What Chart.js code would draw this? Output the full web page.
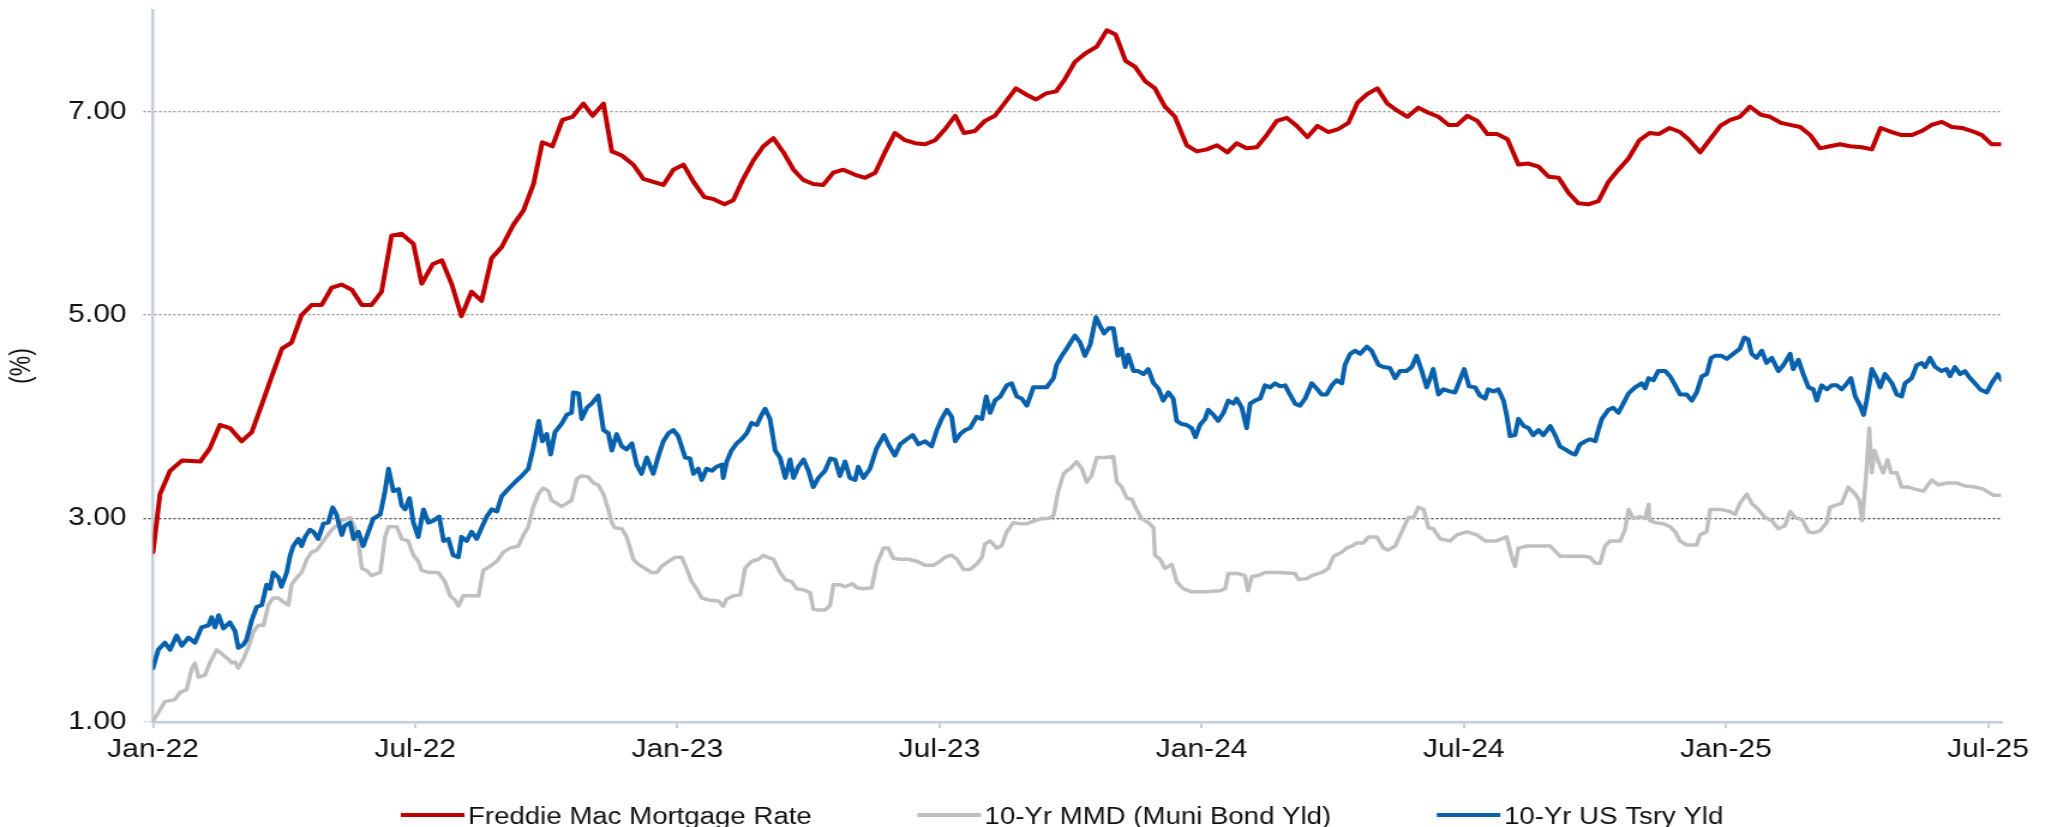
<!DOCTYPE html>
<html>
<head>
<meta charset="utf-8">
<script src="https://cdn.jsdelivr.net/npm/chart.js@4/dist/chart.umd.min.js"></script>
<style>
  html, body { margin: 0; padding: 0; background: #ffffff; overflow: hidden; }
  #wrap { width: 1704px; height: 827px; transform: scaleX(1.2001); transform-origin: 0 0; }
  canvas { display: block; }
</style>
</head>
<body>
<div id="wrap"><canvas id="chart" width="1704" height="827" style="width:1704px;height:827px"></canvas></div>
<script>
// ---------- DATA (x = months since Jan-2022) ----------
const seriesLabels = ["Freddie Mac Mortgage Rate", "10-Yr MMD (Muni Bond Yld)", "10-Yr US Tsry Yld"];

const xTickMonths = [0, 6, 12, 18, 24, 30, 36, 42];
const xTickLabels = ["Jan-22", "Jul-22", "Jan-23", "Jul-23", "Jan-24", "Jul-24", "Jan-25", "Jul-25"];
const yTickValues = [1, 3, 5, 7];

const mortgageMonths = [0.00,0.16,0.39,0.66,1.08,1.30,1.53,1.76,2.03,2.26,2.53,2.72,2.95,3.17,3.40,3.63,3.86,4.09,4.32,4.55,4.78,5.00,5.23,5.46,5.69,5.96,6.15,6.40,6.61,6.84,7.06,7.29,7.52,7.75,7.98,8.25,8.48,8.71,8.91,9.14,9.37,9.60,9.85,10.06,10.31,10.50,10.73,10.99,11.22,11.45,11.68,11.91,12.14,12.37,12.62,12.83,13.08,13.28,13.51,13.74,13.97,14.20,14.43,14.66,14.88,15.11,15.34,15.57,15.80,16.07,16.30,16.53,16.75,16.98,17.21,17.44,17.67,17.90,18.13,18.36,18.56,18.81,19.04,19.27,19.52,19.75,19.98,20.21,20.44,20.67,20.87,21.10,21.33,21.60,21.83,22.03,22.26,22.48,22.71,22.93,23.16,23.39,23.66,23.89,24.12,24.35,24.59,24.80,25.03,25.26,25.49,25.72,25.95,26.18,26.42,26.65,26.90,27.13,27.36,27.57,27.78,28.02,28.25,28.48,28.71,28.96,29.19,29.42,29.65,29.85,30.08,30.31,30.54,30.77,31.00,31.25,31.48,31.71,31.94,32.17,32.40,32.62,32.85,33.08,33.31,33.54,33.77,34.02,34.25,34.46,34.71,34.95,35.14,35.41,35.64,35.87,36.10,36.32,36.55,36.80,37.01,37.26,37.47,37.70,37.93,38.15,38.38,38.61,38.84,39.11,39.34,39.54,39.80,40.02,40.25,40.48,40.71,40.94,41.17,41.40,41.63,41.86,42.08,42.31];
const mortgageRate = [2.67,3.24,3.47,3.57,3.56,3.69,3.92,3.89,3.76,3.85,4.17,4.40,4.67,4.73,5.00,5.10,5.10,5.27,5.30,5.25,5.10,5.10,5.23,5.78,5.80,5.70,5.31,5.50,5.54,5.30,4.99,5.23,5.14,5.56,5.67,5.89,6.03,6.29,6.70,6.66,6.92,6.95,7.08,6.96,7.08,6.61,6.57,6.48,6.34,6.31,6.28,6.43,6.48,6.31,6.16,6.14,6.09,6.13,6.34,6.52,6.66,6.74,6.60,6.43,6.33,6.29,6.28,6.40,6.43,6.38,6.35,6.40,6.60,6.79,6.72,6.69,6.68,6.72,6.83,6.96,6.79,6.81,6.91,6.96,7.10,7.23,7.17,7.12,7.18,7.20,7.32,7.49,7.57,7.64,7.80,7.76,7.50,7.44,7.30,7.23,7.05,6.95,6.67,6.61,6.63,6.67,6.60,6.69,6.64,6.65,6.77,6.91,6.94,6.86,6.75,6.86,6.80,6.83,6.89,7.09,7.17,7.23,7.08,7.01,6.95,7.04,6.99,6.95,6.87,6.87,6.96,6.91,6.78,6.78,6.73,6.48,6.49,6.46,6.36,6.35,6.20,6.10,6.09,6.12,6.31,6.43,6.54,6.72,6.79,6.78,6.84,6.80,6.73,6.60,6.73,6.86,6.92,6.95,7.05,6.97,6.95,6.89,6.87,6.85,6.77,6.64,6.66,6.68,6.66,6.65,6.63,6.84,6.80,6.77,6.77,6.81,6.87,6.90,6.85,6.84,6.81,6.77,6.68,6.68];

const mmdMonths = [0.00,0.12,0.27,0.50,0.62,0.77,0.89,0.96,1.04,1.19,1.30,1.46,1.57,1.72,1.80,1.88,1.95,2.07,2.18,2.30,2.41,2.53,2.64,2.75,2.87,2.98,3.10,3.17,3.29,3.40,3.52,3.63,3.75,3.90,4.09,4.20,4.32,4.51,4.62,4.70,4.78,4.89,5.00,5.20,5.31,5.39,5.58,5.69,5.84,5.96,6.07,6.15,6.30,6.53,6.68,6.80,6.91,6.99,7.10,7.45,7.56,7.71,7.87,8.02,8.17,8.36,8.48,8.59,8.70,8.82,8.93,9.05,9.12,9.24,9.35,9.47,9.58,9.70,9.81,9.96,10.08,10.19,10.31,10.42,10.50,10.57,10.73,10.84,10.92,10.99,11.11,11.26,11.41,11.53,11.64,11.80,11.95,12.10,12.21,12.33,12.44,12.56,12.71,12.94,13.05,13.13,13.28,13.44,13.55,13.70,13.86,13.97,14.05,14.20,14.35,14.47,14.62,14.73,14.88,15.04,15.11,15.23,15.38,15.50,15.57,15.72,15.84,16.01,16.11,16.26,16.45,16.56,16.72,16.83,16.94,17.10,17.29,17.48,17.67,17.86,18.01,18.13,18.28,18.40,18.55,18.70,18.85,18.97,19.04,19.16,19.31,19.42,19.54,19.69,19.84,20.00,20.19,20.34,20.49,20.61,20.72,20.84,20.91,20.99,21.14,21.26,21.37,21.48,21.60,21.79,21.98,22.06,22.17,22.29,22.40,22.51,22.63,22.78,22.90,22.93,23.05,23.16,23.32,23.43,23.58,23.77,24.08,24.42,24.54,24.61,24.84,24.99,25.06,25.15,25.30,25.45,25.76,26.14,26.22,26.41,26.52,26.75,26.90,27.02,27.21,27.32,27.44,27.55,27.70,27.82,28.01,28.16,28.27,28.43,28.58,28.73,28.85,28.96,29.08,29.19,29.30,29.46,29.69,29.84,30.07,30.30,30.49,30.75,30.98,31.10,31.17,31.25,31.44,31.67,31.98,32.20,32.43,32.74,32.89,33.01,33.12,33.23,33.35,33.58,33.69,33.77,33.88,34.03,34.15,34.23,34.26,34.38,34.57,34.72,34.84,34.95,35.10,35.33,35.41,35.56,35.64,35.87,36.09,36.21,36.32,36.48,36.59,36.74,36.90,37.05,37.20,37.35,37.47,37.58,37.74,37.89,38.00,38.15,38.31,38.38,38.50,38.65,38.80,38.96,39.05,39.12,39.22,39.28,39.34,39.40,39.49,39.60,39.70,39.78,39.91,40.02,40.18,40.33,40.52,40.71,40.86,41.05,41.28,41.47,41.70,41.89,42.12,42.31];
const mmdYield = [1.01,1.09,1.20,1.22,1.29,1.32,1.53,1.58,1.44,1.46,1.58,1.71,1.67,1.62,1.58,1.59,1.53,1.62,1.73,1.89,1.95,1.95,2.15,2.22,2.22,2.18,2.15,2.35,2.42,2.47,2.60,2.67,2.69,2.78,2.89,2.93,2.98,3.01,2.91,2.78,2.51,2.49,2.44,2.47,2.82,2.92,2.92,2.80,2.78,2.64,2.58,2.49,2.47,2.47,2.38,2.24,2.20,2.14,2.24,2.24,2.49,2.53,2.58,2.67,2.71,2.73,2.84,2.92,3.11,3.24,3.30,3.27,3.18,3.15,3.12,3.15,3.18,3.39,3.42,3.41,3.35,3.33,3.24,3.09,2.96,2.91,2.90,2.82,2.71,2.60,2.55,2.51,2.47,2.47,2.53,2.58,2.62,2.62,2.51,2.38,2.31,2.22,2.20,2.19,2.14,2.21,2.24,2.25,2.51,2.58,2.60,2.64,2.62,2.60,2.47,2.40,2.38,2.31,2.30,2.27,2.11,2.10,2.10,2.15,2.35,2.35,2.33,2.36,2.32,2.31,2.32,2.55,2.71,2.71,2.61,2.60,2.60,2.58,2.54,2.54,2.58,2.62,2.64,2.60,2.50,2.50,2.55,2.62,2.75,2.78,2.71,2.73,2.87,2.96,2.95,2.95,2.98,3.00,3.00,3.03,3.27,3.44,3.47,3.49,3.56,3.49,3.36,3.42,3.60,3.60,3.61,3.36,3.31,3.20,3.19,3.09,3.00,2.96,2.91,2.64,2.60,2.51,2.55,2.38,2.31,2.28,2.28,2.29,2.31,2.46,2.46,2.44,2.29,2.43,2.44,2.47,2.47,2.46,2.40,2.41,2.44,2.47,2.51,2.63,2.67,2.71,2.73,2.76,2.76,2.82,2.82,2.71,2.69,2.73,2.87,3.01,3.01,3.11,3.09,2.91,2.90,2.80,2.78,2.84,2.87,2.84,2.78,2.78,2.82,2.62,2.53,2.71,2.73,2.73,2.73,2.63,2.63,2.63,2.62,2.56,2.56,2.73,2.78,2.78,2.89,3.09,3.00,3.02,3.00,3.14,2.98,2.96,2.95,2.92,2.87,2.78,2.74,2.74,2.84,2.87,3.09,3.09,3.07,3.04,3.15,3.24,3.15,3.09,3.01,2.98,2.90,2.93,3.07,3.01,2.99,2.87,2.86,2.88,2.96,3.11,3.13,3.15,3.31,3.24,3.18,2.98,3.49,3.89,3.45,3.67,3.56,3.45,3.58,3.45,3.45,3.31,3.31,3.29,3.27,3.38,3.33,3.35,3.35,3.32,3.31,3.29,3.23,3.23];

const tsryMonths = [0.00,0.12,0.27,0.39,0.54,0.66,0.81,0.96,1.11,1.27,1.34,1.42,1.50,1.61,1.76,1.88,1.95,2.07,2.14,2.26,2.37,2.49,2.60,2.68,2.75,2.87,2.94,3.06,3.14,3.21,3.33,3.40,3.48,3.59,3.67,3.78,3.90,4.01,4.11,4.20,4.32,4.39,4.51,4.59,4.70,4.81,4.93,5.04,5.20,5.31,5.39,5.50,5.62,5.69,5.77,5.87,5.96,6.07,6.19,6.30,6.42,6.55,6.65,6.76,6.87,6.99,7.06,7.18,7.29,7.41,7.52,7.64,7.75,7.87,7.98,8.13,8.29,8.44,8.59,8.70,8.83,8.91,9.01,9.10,9.20,9.35,9.47,9.58,9.62,9.74,9.81,9.93,10.04,10.19,10.31,10.42,10.50,10.61,10.73,10.84,10.96,11.07,11.18,11.30,11.45,11.57,11.68,11.80,11.91,12.02,12.18,12.29,12.37,12.48,12.56,12.67,12.79,12.90,13.02,13.05,13.13,13.24,13.36,13.47,13.59,13.70,13.82,13.93,14.01,14.12,14.24,14.35,14.47,14.58,14.66,14.77,14.89,15.00,15.11,15.23,15.38,15.50,15.61,15.72,15.84,15.95,16.07,16.14,16.26,16.41,16.56,16.73,16.83,16.98,17.10,17.25,17.39,17.52,17.67,17.82,17.94,18.05,18.17,18.28,18.36,18.47,18.59,18.70,18.85,18.97,19.07,19.16,19.27,19.39,19.54,19.65,19.77,19.88,20.00,20.15,20.30,20.45,20.61,20.68,20.80,20.91,21.10,21.22,21.33,21.45,21.58,21.68,21.77,21.87,21.98,22.08,22.17,22.25,22.32,22.44,22.55,22.67,22.78,22.90,23.01,23.12,23.24,23.35,23.43,23.54,23.66,23.77,23.86,23.96,24.08,24.15,24.27,24.38,24.50,24.61,24.73,24.80,24.92,25.03,25.11,25.22,25.34,25.45,25.57,25.68,25.80,25.91,26.02,26.14,26.25,26.37,26.52,26.63,26.75,26.86,26.98,27.09,27.21,27.28,27.40,27.51,27.63,27.78,27.89,28.05,28.16,28.31,28.43,28.54,28.69,28.81,28.92,29.04,29.15,29.23,29.30,29.42,29.53,29.69,29.80,29.91,30.01,30.12,30.26,30.37,30.49,30.56,30.68,30.79,30.91,30.98,31.06,31.17,31.25,31.37,31.48,31.59,31.71,31.82,31.98,32.09,32.20,32.36,32.47,32.55,32.66,32.78,32.89,33.01,33.08,33.16,33.31,33.42,33.54,33.65,33.77,33.92,34.07,34.15,34.23,34.34,34.45,34.61,34.72,34.84,34.95,35.10,35.22,35.33,35.45,35.56,35.66,35.75,35.90,36.02,36.17,36.32,36.42,36.51,36.59,36.70,36.82,36.93,37.05,37.20,37.32,37.47,37.54,37.66,37.77,37.89,38.00,38.08,38.19,38.31,38.42,38.54,38.65,38.77,38.86,38.96,39.07,39.15,39.22,39.34,39.45,39.53,39.64,39.80,39.91,40.02,40.10,40.25,40.37,40.48,40.56,40.67,40.79,40.94,41.05,41.13,41.24,41.36,41.47,41.59,41.70,41.82,41.97,42.08,42.22,42.31];
const tsryYield = [1.53,1.71,1.78,1.71,1.85,1.75,1.83,1.78,1.93,1.95,2.03,1.93,2.05,1.92,1.98,1.89,1.73,1.76,1.81,2.00,2.13,2.15,2.35,2.31,2.47,2.42,2.33,2.47,2.64,2.73,2.80,2.73,2.82,2.89,2.87,2.80,2.95,2.96,3.11,3.04,2.84,2.93,2.96,2.80,2.87,2.73,2.87,3.00,3.04,3.27,3.49,3.27,3.29,3.13,3.09,3.20,2.96,2.82,3.09,2.96,2.98,3.02,2.78,2.80,2.64,2.62,2.82,2.78,2.87,2.80,2.91,3.02,3.09,3.07,3.22,3.29,3.36,3.42,3.49,3.69,3.96,3.76,3.83,3.63,3.85,3.93,4.02,4.04,4.24,4.23,3.98,4.09,4.13,4.21,3.87,3.84,3.67,3.83,3.71,3.68,3.74,3.53,3.44,3.60,3.44,3.62,3.76,3.84,3.87,3.81,3.60,3.59,3.44,3.49,3.38,3.49,3.47,3.51,3.53,3.40,3.56,3.67,3.74,3.78,3.84,3.94,3.92,4.02,4.08,3.98,3.67,3.60,3.40,3.58,3.40,3.51,3.58,3.47,3.31,3.40,3.47,3.59,3.58,3.42,3.56,3.40,3.38,3.51,3.40,3.49,3.69,3.82,3.73,3.62,3.73,3.78,3.82,3.73,3.76,3.71,3.87,3.98,4.07,4.00,3.76,3.83,3.87,3.89,4.00,3.98,4.20,4.04,4.16,4.20,4.31,4.33,4.20,4.18,4.11,4.29,4.29,4.29,4.38,4.51,4.60,4.67,4.80,4.73,4.60,4.71,4.98,4.89,4.82,4.87,4.87,4.60,4.67,4.49,4.61,4.45,4.45,4.42,4.47,4.33,4.28,4.16,4.24,4.18,3.96,3.93,3.92,3.89,3.80,3.92,3.98,4.07,4.02,3.96,4.04,4.16,4.13,4.18,4.09,3.89,4.13,4.16,4.18,4.31,4.29,4.33,4.30,4.31,4.22,4.13,4.11,4.18,4.33,4.28,4.22,4.22,4.31,4.36,4.33,4.51,4.62,4.65,4.62,4.69,4.65,4.51,4.49,4.48,4.38,4.45,4.45,4.49,4.60,4.45,4.29,4.38,4.47,4.22,4.27,4.25,4.24,4.36,4.47,4.30,4.29,4.21,4.18,4.27,4.25,4.27,4.16,4.02,3.81,3.82,3.98,3.91,3.89,3.82,3.87,3.82,3.91,3.82,3.71,3.67,3.64,3.63,3.73,3.76,3.78,3.76,3.87,3.98,4.07,4.09,4.04,4.13,4.23,4.29,4.33,4.28,4.38,4.36,4.45,4.45,4.40,4.31,4.22,4.22,4.16,4.24,4.40,4.42,4.58,4.60,4.60,4.57,4.62,4.67,4.78,4.76,4.62,4.58,4.65,4.53,4.58,4.45,4.51,4.62,4.47,4.56,4.42,4.29,4.27,4.16,4.31,4.27,4.31,4.31,4.27,4.33,4.38,4.20,4.11,4.02,4.16,4.47,4.38,4.29,4.42,4.33,4.22,4.20,4.33,4.38,4.51,4.53,4.49,4.58,4.49,4.45,4.47,4.40,4.49,4.42,4.45,4.38,4.33,4.27,4.24,4.33,4.42,4.36];

// ---------- BUILD ----------
const FONT = "'Liberation Sans', Arial, Helvetica, sans-serif";
const AXIS_COLOR = '#c3cedb';
const toPoints = (xs, ys) => xs.map((x, i) => ({ x: x, y: ys[i] }));

const legendPlugin = {
  id: 'bottomLegend',
  afterDraw(chart) {
    const ctx = chart.ctx;
    ctx.save();
    ctx.font = '23px ' + FONT;
    const items = chart.data.datasets.map(ds => ({
      text: ds.label, color: ds.borderColor, w: ctx.measureText(ds.label).width
    }));
    const lineLen = 53, gap = 3, spacing = 88;
    const total = items.reduce((s, it) => s + lineLen + gap + it.w, 0) + spacing * (items.length - 1);
    let x = 885 - total / 2;
    const yLine = 815;
    const yBase = 823.5;
    items.forEach(it => {
      ctx.strokeStyle = it.color;
      ctx.lineWidth = 4;
      ctx.beginPath();
      ctx.moveTo(x, yLine);
      ctx.lineTo(x + lineLen, yLine);
      ctx.stroke();
      ctx.fillStyle = '#111111';
      ctx.textAlign = 'left';
      ctx.textBaseline = 'alphabetic';
      ctx.fillText(it.text, x + lineLen + gap, yBase);
      x += lineLen + gap + it.w + spacing;
    });
    ctx.restore();
  }
};

new Chart(document.getElementById('chart'), {
  type: 'line',
  data: {
    datasets: [
      { label: seriesLabels[0], data: toPoints(mortgageMonths, mortgageRate), borderColor: '#c00000', borderWidth: 4, order: 2 },
      { label: seriesLabels[1], data: toPoints(mmdMonths, mmdYield), borderColor: '#bfbfbf', borderWidth: 3.5, order: 1 },
      { label: seriesLabels[2], data: toPoints(tsryMonths, tsryYield), borderColor: '#0761ac', borderWidth: 4, order: 0 }
    ]
  },
  options: {
    responsive: false,
    animation: false,
    devicePixelRatio: 1,
    layout: { padding: { top: 10, left: 0, right: 36.5, bottom: 55 } },
    elements: {
      point: { radius: 0, hoverRadius: 0 },
      line: { tension: 0, fill: false, borderJoinStyle: 'round', borderCapStyle: 'round' }
    },
    plugins: { legend: { display: false }, tooltip: { enabled: false } },
    scales: {
      x: {
        type: 'linear',
        min: 0,
        max: 42.3,
        afterBuildTicks: s => { s.ticks = xTickMonths.map(v => ({ value: v })); },
        afterFit: s => { s.height = 50; s.paddingLeft = 0; s.paddingRight = 0; },
        ticks: {
          autoSkip: false, maxRotation: 0, minRotation: 0, padding: 7,
          color: '#111111', font: { family: FONT, size: 25 },
          callback: (v, i) => xTickLabels[i]
        },
        grid: { drawOnChartArea: false, drawTicks: true, tickLength: 6, color: AXIS_COLOR, lineWidth: 2 },
        border: { display: true, color: AXIS_COLOR, width: 2.5 }
      },
      y: {
        type: 'linear',
        min: 1,
        max: 8,
        afterBuildTicks: s => { s.ticks = yTickValues.map(v => ({ value: v })); },
        afterFit: s => { s.width = 127.5; s.paddingTop = 0; s.paddingBottom = 0; },
        ticks: {
          padding: 14, color: '#111111', font: { family: FONT, size: 25 },
          callback: v => Number(v).toFixed(2)
        },
        grid: {
          drawOnChartArea: true, drawTicks: true, tickLength: 8, lineWidth: 1.3,
          color: c => (c.tick && c.tick.value === 1) ? 'rgba(0,0,0,0)' : ((c.tick && c.tick.value === 3) ? '#4a4a4a' : '#8f8f8f'),
          tickColor: c => (c.tick && c.tick.value === 1) ? AXIS_COLOR : ((c.tick && c.tick.value === 3) ? '#4a4a4a' : '#8f8f8f'),
          tickBorderDash: [2, 2]
        },
        border: { display: true, color: AXIS_COLOR, width: 2.5, dash: [2, 2] },
        title: {
          display: true, text: '(%)', color: '#111111',
          font: { family: FONT, size: 23 }, padding: { top: 5, bottom: 0 }
        }
      }
    }
  },
  plugins: [legendPlugin]
});
</script>
</body>
</html>
